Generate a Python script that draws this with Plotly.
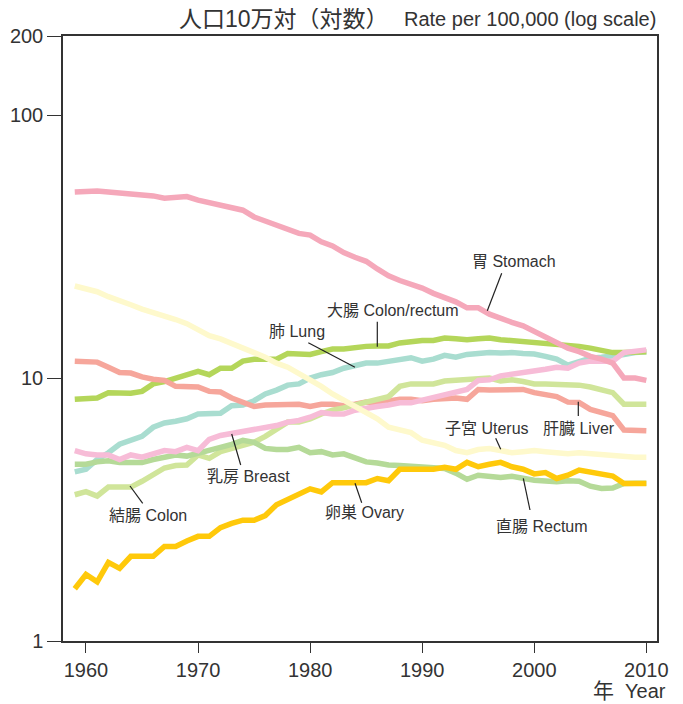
import plotly.graph_objects as go

years = list(range(1959, 2011))

stomach = [51.0, 51.5, 51.5, 51.0, 50.5, 50.5, 49.5, 49.3, 48.3, 48.5, 49.0, 47.5, 46.5, 45.5, 44.5, 43.5,
           41.0, 39.5, 38.5, 37.0, 35.5, 35.0, 33.0, 31.8, 30.0, 28.8, 27.8, 26.0, 24.5, 23.5, 22.8, 22.0,
           21.0, 20.3, 19.5, 18.5, 18.5, 17.5, 16.8, 16.3, 15.8, 15.0, 14.4, 13.7, 13.0, 12.6, 12.1, 11.8,
           11.4, 10.0, 10.0, 9.8]
uterus = [22.4, 21.9, 21.3, 20.4, 19.8, 19.0, 18.3, 17.8, 17.2, 16.7, 16.1, 15.3, 14.5, 14.1, 13.6, 13.0,
          12.5, 12.0, 11.4, 11.0, 10.4, 9.9, 9.3, 8.7, 8.25, 7.8, 7.4, 7.0, 6.5, 6.35, 6.2, 5.8,
          5.65, 5.55, 5.3, 5.2, 5.35, 5.4, 5.3, 5.2, 5.25, 5.3, 5.25, 5.2, 5.15, 5.2, 5.15, 5.1,
          5.1, 5.0, 5.0, 5.0]
liver = [11.6, 11.6, 11.5, 11.0, 10.5, 10.45, 10.1, 9.9, 9.8, 9.3, 9.25, 9.25, 8.9, 8.85, 8.4, 8.1,
         7.8, 7.9, 7.9, 7.9, 7.95, 7.8, 7.95, 7.95, 7.85, 7.95, 8.1, 8.05, 8.15, 8.3, 8.3, 8.2,
         8.3, 8.4, 8.4, 8.3, 9.05, 9.0, 9.0, 9.05, 9.05, 8.8, 8.7, 8.5, 8.1, 8.07, 7.6, 7.4,
         7.2, 6.35, 6.3, 6.3]
colon_rectum = [8.3, 8.4, 8.4, 8.8, 8.75, 8.75, 8.9, 9.5, 9.7, 10.0, 10.4, 10.6, 10.3, 10.9, 10.9, 11.6,
                11.8, 11.8, 11.8, 12.4, 12.4, 12.3, 12.6, 12.9, 12.9, 13.1, 13.2, 13.25, 13.25, 13.6, 13.8, 13.9,
                13.9, 14.2, 14.1, 14.0, 14.1, 14.2, 14.0, 13.9, 13.8, 13.6, 13.6, 13.5, 13.4, 13.2, 13.0, 12.8,
                12.5, 12.5, 12.5, 12.6]
lung = [4.4, 4.5, 4.9, 5.2, 5.6, 5.8, 6.0, 6.5, 6.75, 6.85, 7.0, 7.3, 7.3, 7.35, 7.85, 7.9,
        8.2, 8.7, 9.0, 9.4, 9.5, 10.0, 10.3, 10.5, 10.9, 11.2, 11.4, 11.4, 11.6, 11.8, 11.95, 11.6,
        11.8, 12.2, 12.0, 12.3, 12.4, 12.5, 12.45, 12.5, 12.4, 12.35, 12.1, 11.8, 11.2, 11.5, 11.9, 12.0,
        12.1, 12.3, 12.5, 12.6]
breast = [5.3, 5.15, 5.1, 5.1, 4.9, 5.1, 5.0, 5.15, 5.3, 5.25, 5.45, 5.3, 5.85, 6.05, 6.15, 6.25,
          6.4, 6.5, 6.6, 6.8, 6.9, 7.1, 7.4, 7.3, 7.3, 7.55, 7.7, 7.8, 7.9, 8.05, 8.05, 8.25,
          8.4, 8.6, 8.8, 9.05, 9.8, 9.85, 10.2, 10.35, 10.4, 10.6, 10.8, 11.0, 10.9, 11.4, 11.6, 11.6,
          11.6, 12.5, 12.6, 12.8]
colon = [3.6, 3.7, 3.56, 3.85, 3.85, 3.85, 4.05, 4.3, 4.55, 4.65, 4.67, 5.1, 4.95, 5.25, 5.4, 5.55,
         5.7, 6.0, 6.4, 6.8, 6.8, 7.0, 7.3, 7.55, 7.7, 7.85, 8.1, 8.3, 8.5, 9.3, 9.5, 9.5,
         9.5, 9.75, 9.8, 9.85, 9.9, 10.0, 9.75, 9.85, 9.7, 9.5, 9.5, 9.5, 9.45, 9.4, 9.25, 9.0,
         8.8, 7.96, 7.96, 7.96]
rectum = [4.7, 4.7, 4.8, 4.85, 4.77, 4.77, 4.77, 4.9, 5.0, 5.1, 5.05, 5.2, 5.3, 5.45, 5.6, 5.8,
          5.7, 5.4, 5.35, 5.35, 5.45, 5.2, 5.25, 5.1, 5.15, 5.0, 4.8, 4.75, 4.67, 4.65, 4.62, 4.6,
          4.55, 4.53, 4.35, 4.12, 4.27, 4.25, 4.19, 4.23, 4.15, 4.09, 4.06, 4.03, 4.07, 4.05, 3.88, 3.8,
          3.82, 3.97, 3.98, 3.98]
ovary = [1.58, 1.79, 1.68, 1.99, 1.89, 2.1, 2.1, 2.1, 2.29, 2.29, 2.4, 2.5, 2.5, 2.7, 2.8, 2.88,
         2.88, 3.0, 3.3, 3.45, 3.62, 3.79, 3.69, 4.0, 4.0, 4.0, 4.0, 4.15, 4.07, 4.5, 4.5, 4.5,
         4.5, 4.58, 4.5, 4.78, 4.6, 4.7, 4.78, 4.6, 4.5, 4.32, 4.37, 4.15, 4.27, 4.47, 4.38, 4.3,
         4.24, 3.97, 3.97, 3.97]

y_tickvals = [1, 10, 100, 200]
y_ticktext = ["1", "10", "100", "200"]
x_tickvals = [1960, 1970, 1980, 1990, 2000, 2010]

series = [
    ("肺 Lung", lung, "#A9DDD0"),
    ("大腸 Colon/rectum", colon_rectum, "#B4D65A"),
    ("肝臓 Liver", liver, "#F6A69B"),
    ("結腸 Colon", colon, "#D0E59A"),
    ("直腸 Rectum", rectum, "#B5DA98"),
    ("乳房 Breast", breast, "#F7BCD7"),
    ("子宮 Uterus", uterus, "#FEF9CC"),
    ("胃 Stomach", stomach, "#F5A8BA"),
    ("卵巣 Ovary", ovary, "#FFC90A"),
]

# page body has an 8px margin; figure sized so it fits the window
OFF = 8
W, H = 683 - OFF, 704 - OFF
# plot area in screenshot pixels: x 63..657, y 36..641
SL, ST, SR, SB = 63, 36, 657, 641
L, T = SL - OFF, ST - OFF
R, B = W - (SR - OFF), H - (SB - OFF)
PW, PH = SR - SL, SB - ST

def px(x):
    return (x - SL) / PW

def py(y):
    return (SB - y) / PH

fig = go.Figure()
for name, vals, col in series:
    fig.add_trace(go.Scatter(x=years, y=vals, mode="lines", name=name,
                             line=dict(color=col, width=5.5), showlegend=False,
                             hoverinfo="skip"))

FONT = "Liberation Sans, Arial, Noto Sans CJK JP, sans-serif"

# labels: (text, cx, cy, line x0, y0, x1, y1) in screenshot pixels
labels = [
    ("胃 Stomach", 514, 261, 501.7, 273.3, 487.3, 310.7),
    ("大腸 Colon/rectum", 393, 310, 377.3, 321.7, 377.3, 346.7),
    ("肺 Lung", 296.5, 331, 308.3, 342.7, 355.0, 367.3),
    ("乳房 Breast", 248, 476, 231.7, 434.0, 240.7, 465.0),
    ("結腸 Colon", 147.5, 515, 130.0, 486.0, 142.7, 503.3),
    ("卵巣 Ovary", 364.5, 513, 355.0, 483.3, 361.7, 502.7),
    ("子宮 Uterus", 487, 429, 495.7, 438.3, 500.7, 449.3),
    ("肝臓 Liver", 579, 428, 578.3, 401.7, 578.3, 416.0),
    ("直腸 Rectum", 542, 526, 523.3, 478.3, 530.0, 510.0),
]
for text, cx, cy, x0, y0, x1, y1 in labels:
    fig.add_annotation(text=text, x=px(cx), y=py(cy), xref="paper", yref="paper",
                       xanchor="center", yanchor="middle", showarrow=False,
                       font=dict(family=FONT, size=16, color="#333333"))
    fig.add_shape(type="line", xref="paper", yref="paper",
                  x0=px(x0), y0=py(y0), x1=px(x1), y1=py(y1),
                  line=dict(color="#222222", width=1.2))

fig.add_annotation(text="人口10万対（対数）",
                   x=px(391), y=py(19), xref="paper", yref="paper",
                   xanchor="right", yanchor="middle", showarrow=False,
                   font=dict(family=FONT, size=23, color="#333333"))
fig.add_annotation(text="Rate per 100,000 (log scale)",
                   x=px(658), y=py(19), xref="paper", yref="paper",
                   xanchor="right", yanchor="middle", showarrow=False,
                   font=dict(family=FONT, size=20, color="#333333"))
fig.add_annotation(text="<span style='font-size:21px'>年</span>  Year", x=px(668), y=py(690),
                   xref="paper", yref="paper",
                   xanchor="right", yanchor="middle", showarrow=False,
                   font=dict(family=FONT, size=20, color="#333333"))

fig.update_layout(
    width=W, height=H,
    margin=dict(l=L, r=R, t=T, b=B, pad=0, autoexpand=False),
    paper_bgcolor="white", plot_bgcolor="white",
    font=dict(family=FONT, size=20, color="#333333"),
    xaxis=dict(range=[1957.95, 2010.95], tickvals=x_tickvals, ticks="outside",
               ticklen=10, tickwidth=1, tickcolor="#333333", automargin=False,
               showline=True, linecolor="#333333", linewidth=1.5, mirror=True,
               showgrid=False, zeroline=False,
               tickfont=dict(family=FONT, size=20, color="#333333")),
    yaxis=dict(type="log", range=[0, 2.30103], tickvals=y_tickvals, ticktext=y_ticktext,
               ticks="outside", ticklen=14, tickwidth=1, tickcolor="#333333", automargin=False,
               showline=True, linecolor="#333333", linewidth=1.5, mirror=True,
               showgrid=False, zeroline=False,
               tickfont=dict(family=FONT, size=20, color="#333333")),
)

fig.write_html("out.html")
